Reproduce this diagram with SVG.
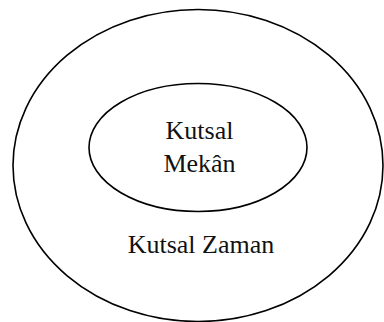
<svg xmlns="http://www.w3.org/2000/svg" width="384" height="322" viewBox="0 0 384 322">
<style>
.e{fill:none;stroke:#000;stroke-width:1.6}
.t{font-family:"Liberation Serif","Times New Roman",serif;font-size:26px;fill:#111;text-anchor:middle}
</style>
<rect width="384" height="322" fill="#fff"/>
<g id="outer">
<ellipse class="e" cx="198" cy="165.5" rx="185" ry="156"/>
<text class="t" x="201" y="253">Kutsal Zaman</text>
</g>
<g id="inner">
<ellipse class="e" cx="198" cy="147.5" rx="109" ry="64"/>
<text class="t" x="199.5" y="139">Kutsal</text>
<text class="t" x="199.5" y="172">Mekân</text>
</g>
<g id="connectors"></g>
</svg>
